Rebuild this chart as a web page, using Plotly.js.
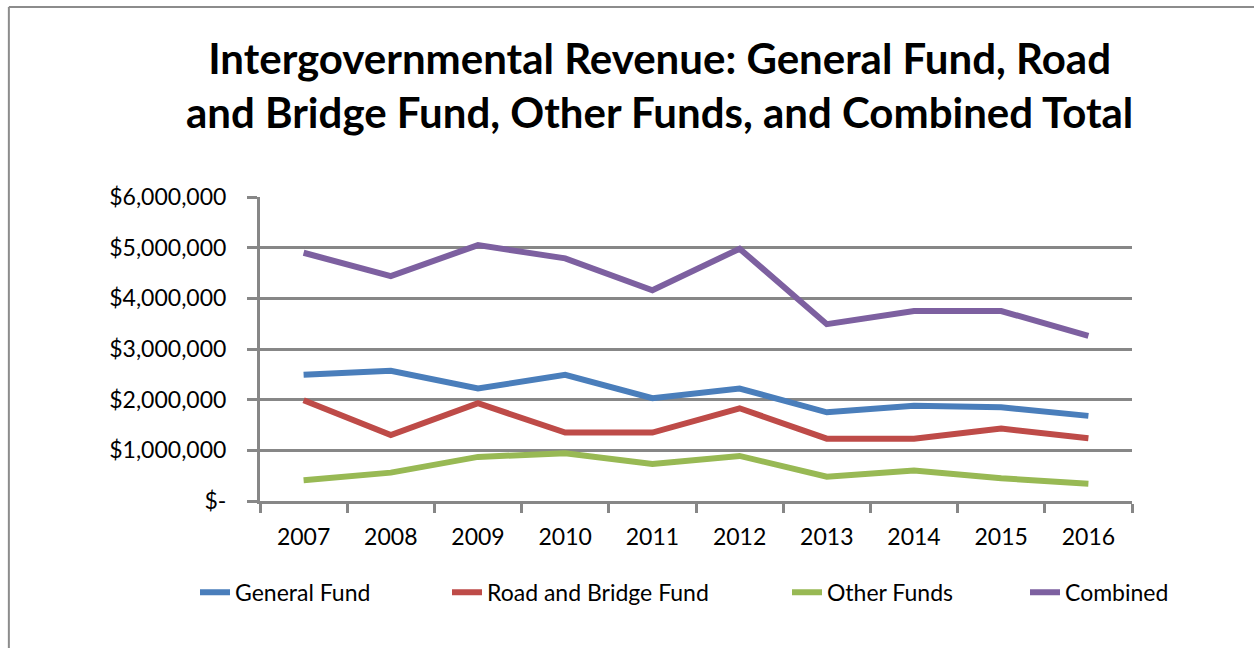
<!DOCTYPE html>
<html>
<head>
<meta charset="utf-8">
<script src="https://cdn.plot.ly/plotly-3.0.1.min.js"></script>
<style>
  body { margin: 0; background: #fff; }
  #chart { width: 1254px; height: 648px; }
</style>
</head>
<body>
<div id="chart"></div>
<script>
// years on the x axis
const years = ['2007', '2008', '2009', '2010', '2011', '2012', '2013', '2014', '2015', '2016'];

// revenue per fund (dollars)
const generalFund = [2490000, 2570000, 2220000, 2490000, 2030000, 2220000, 1750000, 1880000, 1850000, 1680000];
const roadBridgeFund = [1990000, 1300000, 1930000, 1350000, 1350000, 1830000, 1230000, 1230000, 1430000, 1240000];
const otherFunds = [410000, 560000, 870000, 940000, 730000, 890000, 480000, 600000, 450000, 340000];
const combined = [4900000, 4440000, 5050000, 4790000, 4160000, 4980000, 3490000, 3750000, 3750000, 3260000];

const yTickVals = [0, 1000000, 2000000, 3000000, 4000000, 5000000, 6000000];
const yTickText = ['$-', '$1,000,000', '$2,000,000', '$3,000,000', '$4,000,000', '$5,000,000', '$6,000,000'];

const gray = '#878787';
const fontFam = 'Lato, "Open Sans", sans-serif';

// each series gets its own legend box so the entries can sit where the original has them
function series(name, vals, color, legendId) {
  return {
    x: years,
    y: vals,
    name: name,
    type: 'scatter',
    mode: 'lines',
    line: { color: color, width: 6 },
    legend: legendId
  };
}

const data = [
  series('General Fund', generalFund, '#4A7EBB', 'legend'),
  series('Road and Bridge Fund', roadBridgeFund, '#BE4B48', 'legend2'),
  series('Other Funds', otherFunds, '#98B954', 'legend3'),
  series('Combined', combined, '#7D60A0', 'legend4')
];

function legendAt(px) {
  return {
    orientation: 'h',
    x: (px - 260) / 872,
    xanchor: 'left',
    y: -0.3,
    yanchor: 'middle',
    font: { size: 23 },
    bgcolor: 'rgba(0,0,0,0)'
  };
}

const layout = {
  width: 1254,
  height: 648,
  margin: { l: 260, r: 122, t: 197, b: 147 },
  paper_bgcolor: '#fff',
  plot_bgcolor: '#fff',
  font: { family: fontFam, size: 23, color: '#000' },
  title: {
    text: '<b>Intergovernmental Revenue: General Fund, Road<br>and Bridge Fund, Other Funds, and Combined Total</b>',
    font: { family: fontFam, size: 42, color: '#000' },
    x: 0.526,
    xanchor: 'center',
    y: 0.886,
    yanchor: 'middle'
  },
  xaxis: {
    type: 'category',
    range: [-0.5, 9.5],
    showgrid: false,
    showline: true,
    linecolor: gray,
    linewidth: 3,
    ticks: 'outside',
    tickson: 'boundaries',
    ticklen: 9,
    tickwidth: 3,
    tickcolor: gray,
    ticklabelstandoff: 13,
    zeroline: false
  },
  yaxis: {
    range: [0, 6000000],
    tickvals: yTickVals,
    ticktext: yTickText,
    showgrid: true,
    gridcolor: gray,
    gridwidth: 3,
    showline: true,
    linecolor: gray,
    linewidth: 3,
    ticks: 'outside',
    ticklen: 10,
    tickwidth: 3,
    tickcolor: gray,
    ticklabelstandoff: 16,
    zeroline: false
  },
  showlegend: true,
  legend: legendAt(195),
  legend2: legendAt(447),
  legend3: legendAt(787),
  legend4: legendAt(1025),
  // outer chart frame (top and left edges are visible)
  shapes: [
    { type: 'line', xref: 'paper', yref: 'paper', x0: -0.288, x1: 1.3, y0: 1.625, y1: 1.625,
      line: { color: '#8c8c8c', width: 2 } },
    { type: 'line', xref: 'paper', yref: 'paper', x0: -0.288, x1: -0.288, y0: 1.625, y1: -0.7,
      line: { color: '#8c8c8c', width: 2 } }
  ]
};

Plotly.newPlot('chart', data, layout, { displayModeBar: false, staticPlot: true });
</script>
</body>
</html>
